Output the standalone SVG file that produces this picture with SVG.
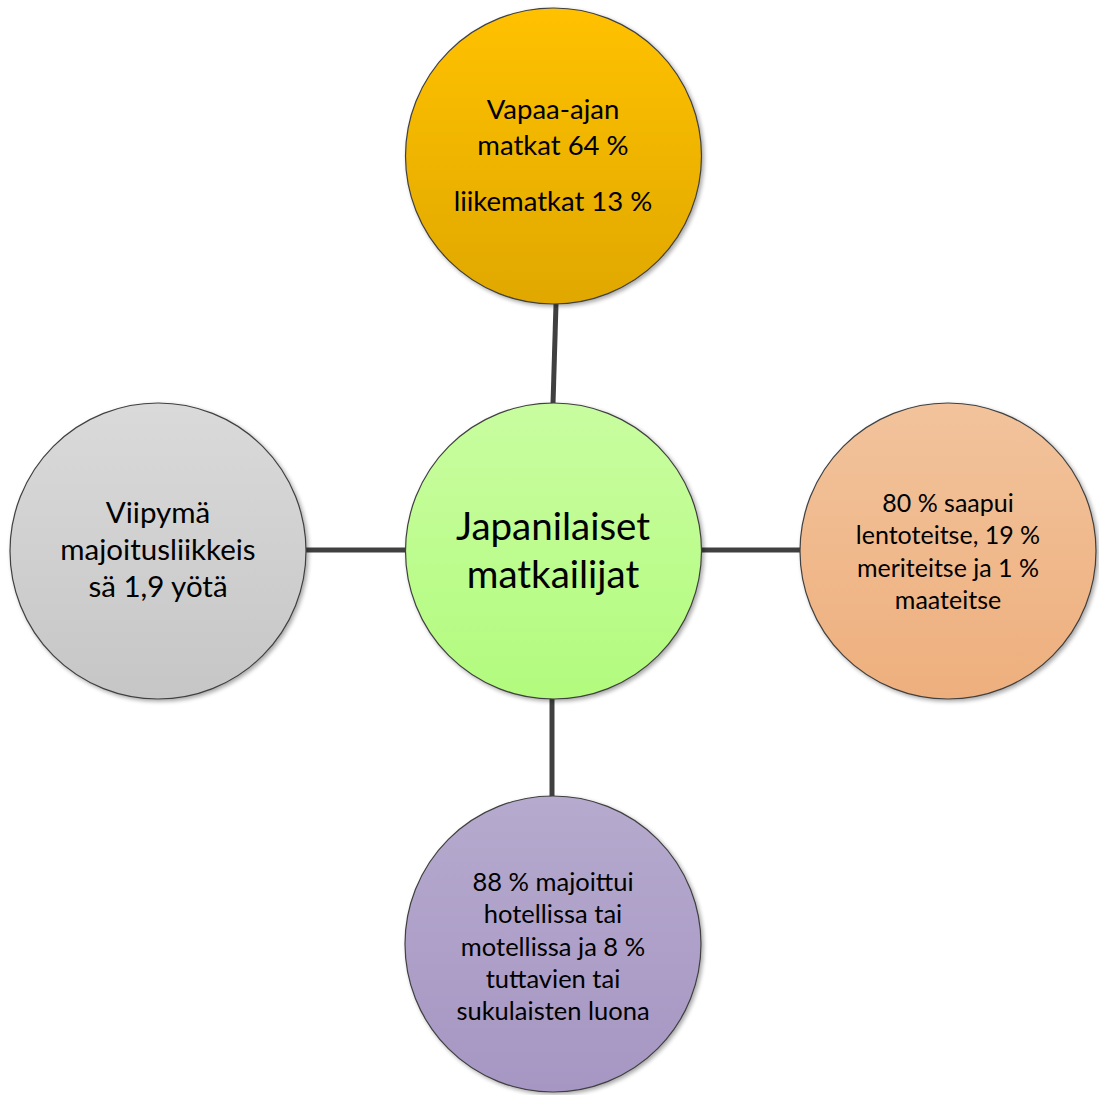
<svg xmlns="http://www.w3.org/2000/svg" width="1099" height="1095" viewBox="0 0 1099 1095">
<style>
.node{stroke:#404040;stroke-width:1.2}
.t{font-family:Lato,"Open Sans","Liberation Sans",sans-serif;fill:#000;text-anchor:middle}
.conn{stroke:#404040;stroke-width:5;fill:none}
</style>
<defs>
<linearGradient id="gTop" x1="0" y1="0" x2="0" y2="1"><stop offset="0" stop-color="#FFC104"/><stop offset="1" stop-color="#E0A804"/></linearGradient>
<linearGradient id="gCen" x1="0" y1="0" x2="0" y2="1"><stop offset="0" stop-color="#C9FDA0"/><stop offset="1" stop-color="#B2FB7E"/></linearGradient>
<linearGradient id="gRight" x1="0" y1="0" x2="0" y2="1"><stop offset="0" stop-color="#F2C39C"/><stop offset="1" stop-color="#EEAF7D"/></linearGradient>
<linearGradient id="gLeft" x1="0" y1="0" x2="0" y2="1"><stop offset="0" stop-color="#DADADA"/><stop offset="1" stop-color="#C6C6C6"/></linearGradient>
<linearGradient id="gBot" x1="0" y1="0" x2="0" y2="1"><stop offset="0" stop-color="#B6AACE"/><stop offset="1" stop-color="#A696C3"/></linearGradient>
<filter id="sh" x="-10%" y="-10%" width="125%" height="125%"><feGaussianBlur in="SourceAlpha" stdDeviation="2"/><feOffset dx="2" dy="2"/><feComponentTransfer><feFuncA type="linear" slope="0.35"/></feComponentTransfer><feMerge><feMergeNode/><feMergeNode in="SourceGraphic"/></feMerge></filter>
</defs>
<rect width="1099" height="1095" fill="#fff"/>
<g id="connectors">
<line class="conn" x1="556" y1="304" x2="553" y2="404"/>
<line class="conn" x1="702" y1="550" x2="800" y2="550"/>
<line class="conn" x1="306" y1="550" x2="405" y2="550"/>
<line class="conn" x1="552" y1="698" x2="552" y2="797"/>
</g>
<g id="node-top">
<circle class="node" cx="553.5" cy="156" r="148" fill="url(#gTop)" filter="url(#sh)"/>
<text class="t" font-size="27.5"><tspan x="553" y="119">Vapaa-ajan</tspan><tspan x="553" y="155">matkat 64 %</tspan><tspan x="553" y="211">liikematkat 13 %</tspan></text>
</g>
<g id="node-center">
<circle class="node" cx="553.5" cy="551" r="148" fill="url(#gCen)" filter="url(#sh)"/>
<text class="t" font-size="38.5"><tspan x="553" y="540">Japanilaiset</tspan><tspan x="553" y="588">matkailijat</tspan></text>
</g>
<g id="node-right">
<circle class="node" cx="948" cy="551" r="148" fill="url(#gRight)" filter="url(#sh)"/>
<text class="t" font-size="25"><tspan x="948" y="512">80 % saapui</tspan><tspan x="948" y="544">lentoteitse, 19 %</tspan><tspan x="948" y="577">meriteitse ja 1 %</tspan><tspan x="948" y="609">maateitse</tspan></text>
</g>
<g id="node-left">
<circle class="node" cx="158" cy="551" r="148" fill="url(#gLeft)" filter="url(#sh)"/>
<text class="t" font-size="29.5"><tspan x="158" y="523">Viipymä</tspan><tspan x="158" y="560">majoitusliikkeis</tspan><tspan x="158" y="597">sä 1,9 yötä</tspan></text>
</g>
<g id="node-bottom">
<circle class="node" cx="553" cy="944" r="148" fill="url(#gBot)" filter="url(#sh)"/>
<text class="t" font-size="25.5"><tspan x="553" y="891">88 % majoittui</tspan><tspan x="553" y="923">hotellissa tai</tspan><tspan x="553" y="956">motellissa ja 8 %</tspan><tspan x="553" y="988">tuttavien tai</tspan><tspan x="553" y="1020">sukulaisten luona</tspan></text>
</g>
</svg>
